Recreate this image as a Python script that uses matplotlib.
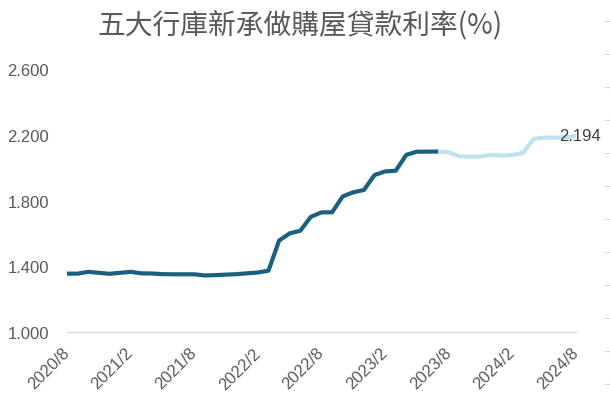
import numpy as np
import matplotlib.pyplot as plt

# monthly rate, 2020/8 .. 2024/8
rates = [1.355, 1.355, 1.366, 1.360, 1.354, 1.360, 1.366, 1.357, 1.356, 1.352,
         1.351, 1.351, 1.351, 1.344, 1.346, 1.349, 1.352, 1.357, 1.362, 1.373,
         1.556, 1.600, 1.616, 1.701, 1.728, 1.728, 1.825, 1.850, 1.864, 1.955,
         1.977, 1.981, 2.078, 2.097, 2.097, 2.098,
         2.093, 2.069, 2.067, 2.068, 2.078, 2.073, 2.077, 2.090, 2.174, 2.183,
         2.181, 2.185, 2.194]
split = 35  # last month drawn in dark colour (2023/7)

tick_labels = ["2020/8", "2021/2", "2021/8", "2022/2", "2022/8",
               "2023/2", "2023/8", "2024/2", "2024/8"]
y_ticks = [1.0, 1.4, 1.8, 2.2, 2.6]

title = "五大行庫新承做購屋貸款利率(%)"

plt.rcParams["font.family"] = ["Liberation Sans", "DejaVu Sans"]

x = np.arange(len(rates))
rates = np.array(rates)

fig = plt.figure(figsize=(6.1, 4.02), dpi=100)
ax = fig.add_axes([67 / 610, 69 / 402, 509 / 610, 263 / 402])

# ---- lines ----
ax.plot(x[split:], rates[split:], color="#bfe2f0", lw=3, solid_capstyle="butt")
ax.plot(x[:split + 1], rates[:split + 1], color="#1c6080", lw=3,
        solid_capstyle="butt", solid_joinstyle="round")

ax.annotate(f"{rates[-1]:.3f}", (x[-1], rates[-1]), xytext=(3, 0),
            textcoords="offset points", ha="center", va="center",
            fontsize=12, color="#404040")

# ---- axes ----
ax.set_xlim(0, len(rates) - 1)
ax.set_ylim(1.0, 2.6)
ax.set_yticks(y_ticks)
ax.set_yticklabels([f"{v:.3f}" for v in y_ticks])
ax.set_xticks(x[::6])
ax.set_xticklabels(tick_labels, rotation=45, ha="right", va="center",
                   rotation_mode="anchor")
ax.tick_params(axis="both", length=0, labelsize=12, labelcolor="#595959")
ax.tick_params(axis="y", pad=13)
ax.tick_params(axis="x", pad=13)
for side in ["top", "right", "left"]:
    ax.spines[side].set_visible(False)
ax.spines["bottom"].set_color("#d9d9d9")
ax.spines["bottom"].set_linewidth(1)

# small tick marks of a cropped second axis at the right edge
ax_r = fig.add_axes([1.0, 17 / 402, 0.0005, 363 / 402])
ax_r.set_ylim(0, 11)
ax_r.set_yticks(range(12))
ax_r.set_yticklabels([])
ax_r.set_xticks([])
ax_r.tick_params(axis="y", direction="out", length=4, color="#d9d9d9")
for s in ax_r.spines.values():
    s.set_visible(False)
ax_r.patch.set_visible(False)

fig.text(300 / 610, 1 - 26 / 402, title, ha="center", va="center",
         fontsize=20, color="#595959",
         family=["Noto Sans CJK TC", "DejaVu Sans"])

fig.savefig("out.png", dpi=100)
